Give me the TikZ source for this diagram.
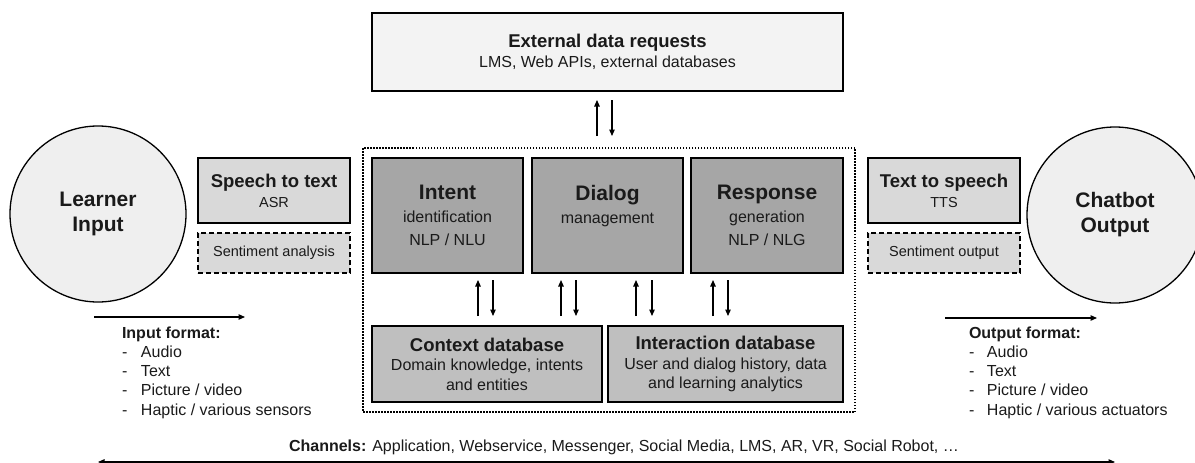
\documentclass[tikz,border=0pt]{standalone}
\usepackage{fontspec}
\setmainfont{Liberation Sans}
\usetikzlibrary{arrows.meta,calc}
\definecolor{txt}{HTML}{1A1A1A}
\definecolor{circfill}{HTML}{EFEFEF}
\definecolor{extfill}{HTML}{F3F3F3}
\definecolor{lightbox}{HTML}{D9D9D9}
\definecolor{darkbox}{HTML}{A6A6A6}
\definecolor{dbbox}{HTML}{BFBFBF}
\newcommand{\ttlA}[1]{{\fontsize{21}{25}\selectfont\bfseries #1}}
\newcommand{\ttlB}[1]{{\fontsize{18.5}{22}\selectfont\bfseries #1}}
\tikzset{
  base/.style={inner sep=0pt, outer sep=0pt, align=center, text=txt},
  roundnode/.style={base, circle, draw, line width=1.3pt, fill=circfill, minimum size=176pt,
     font=\fontsize{21}{25}\selectfont\bfseries},
  procbox/.style={base, draw, line width=1.5pt},
  sentbox/.style={base, draw, line width=1.5pt, dash pattern=on 5pt off 3pt, fill=lightbox,
     minimum width=152pt, minimum height=40pt, font=\fontsize{14.5}{17}\selectfont},
  speechbox/.style={procbox, fill=lightbox, minimum width=152pt, minimum height=65pt,
     font=\fontsize{14.5}{20}\selectfont},
  corebox/.style={procbox, fill=darkbox, minimum height=115pt, font=\fontsize{16}{23}\selectfont},
  dbnode/.style={procbox, fill=dbbox, minimum height=76pt, font=\fontsize{16}{19.5}\selectfont},
  listnode/.style={base, align=left, anchor=north west, font=\fontsize{16}{19.3}\selectfont},
  arr/.style={line width=1.2pt, -{Triangle[length=6.5pt,width=5.5pt]}},
  dblarr/.style={line width=1.2pt, {Triangle[length=6.5pt,width=5.5pt]}-{Triangle[length=6.5pt,width=5.5pt]}}
}
\begin{document}
\begin{tikzpicture}[x=1pt,y=-1pt]
\useasboundingbox (0,0) rectangle (1195,463);

% dotted frame
\node[base, draw, line width=1.5pt, dash pattern=on 1.5pt off 1.5pt, minimum width=492pt, minimum height=264pt] (core) at (609,280) {};

% circles
\node[roundnode] (learner) at (98,214) {Learner\\Input};
\node[roundnode] (chatbot) at (1115,215) {Chatbot\\Output};

% left side boxes
\node[speechbox] (stt) at (274,190.5) {\ttlB{Speech to text}\\ASR};
\node[sentbox] (sa) at (274,253) {Sentiment analysis};
% right side boxes
\node[speechbox] (tts) at (944,190.5) {\ttlB{Text to speech}\\TTS};
\node[sentbox] (so) at (944,253) {Sentiment output};

% external
\node[procbox, fill=extfill, minimum width=471pt, minimum height=78pt, font=\fontsize{16}{20}\selectfont] (ext) at (607.5,52)
  {\ttlB{External data requests}\\LMS, Web APIs, external databases};

% core boxes
\node[corebox, minimum width=151pt] (intent) at (447.5,215.5) {\ttlA{Intent}\\identification\\NLP / NLU};
\node[corebox, minimum width=151pt] (dialog) at (607.5,215.5) {\ttlA{Dialog}\\management\\\mbox{}};
\node[corebox, minimum width=152pt] (response) at (767,215.5) {\ttlA{Response}\\generation\\NLP / NLG};

% databases
\node[dbnode, minimum width=230pt] (context) at (487,364) {\ttlB{Context database}\\Domain knowledge, intents\\and entities};
\node[dbnode, minimum width=235pt] (interaction) at (725.5,364) {\ttlB{Interaction database}\\User and dialog history, data\\and learning analytics};

% arrows external <-> core
\draw[arr] ($(core.north)+(-12,-12)$) -- ($(ext.south)+(-10.5,9)$);
\draw[arr] ($(ext.south)+(4.5,9)$) -- ($(core.north)+(3,-12)$);

% arrows between rows
\draw[arr] ($(context.north)+(-9,-10)$) -- ($(intent.south)+(30.5,7)$);
\draw[arr] ($(intent.south)+(45.5,7)$) -- ($(context.north)+(6,-10)$);
\draw[arr] ($(context.north)+(74,-10)$) -- ($(dialog.south)+(-46.5,7)$);
\draw[arr] ($(dialog.south)+(-31.5,7)$) -- ($(context.north)+(89,-10)$);
\draw[arr] ($(interaction.north)+(-89.5,-10)$) -- ($(dialog.south)+(28.5,7)$);
\draw[arr] ($(dialog.south)+(44.5,7)$) -- ($(interaction.north)+(-73.5,-10)$);
\draw[arr] ($(interaction.north)+(-12.5,-10)$) -- ($(response.south)+(-54,7)$);
\draw[arr] ($(response.south)+(-39,7)$) -- ($(interaction.north)+(2.5,-10)$);

% input / output
\draw[arr] ($(learner.south)+(-4,15)$) -- ++(151,0);
\node[listnode] (inlist) at (122,326.5) {\textbf{Input format:}\\
\makebox[19pt][l]{-}Audio\\
\makebox[19pt][l]{-}Text\\
\makebox[19pt][l]{-}Picture / video\\
\makebox[19pt][l]{-}Haptic / various sensors};

\draw[arr] ($(chatbot.south)+(-170,15)$) -- ++(152,0);
\node[listnode] (outlist) at (969,326.5) {\textbf{Output format:}\\
\makebox[18pt][l]{-}Audio\\
\makebox[18pt][l]{-}Text\\
\makebox[18pt][l]{-}Picture / video\\
\makebox[18pt][l]{-}Haptic / various actuators};

% channels
\node[base, font=\fontsize{16}{19}\selectfont] (channels) at (624,447) {\textbf{Channels:} Application, Webservice, Messenger, Social Media, LMS, AR, VR, Social Robot, …};
\draw[dblarr] ($(learner.south)+(0,160)$) -- ($(chatbot.south)+(0,159)$);
\end{tikzpicture}
\end{document}
